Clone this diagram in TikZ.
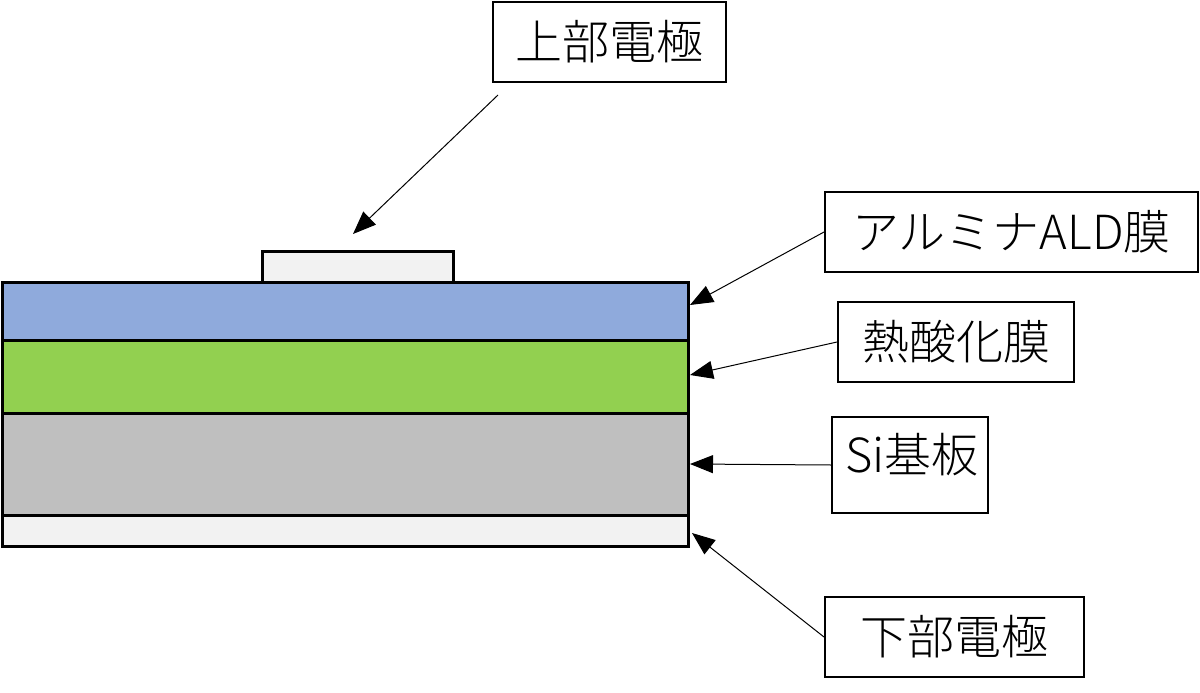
\documentclass[tikz,border=0pt]{standalone}
\usepackage{fontspec}
\setmainfont{Noto Sans CJK JP}[UprightFont=* Light]
\usetikzlibrary{arrows.meta}
\definecolor{albl}{HTML}{8FAADC}
\definecolor{oxgr}{HTML}{92D050}
\definecolor{sigr}{HTML}{BFBFBF}
\definecolor{elwh}{HTML}{F2F2F2}
\begin{document}
\begin{tikzpicture}[x=1pt,y=-1pt,
  layer/.style={draw=black,line width=3pt},
  labeltext/.style={font=\fontsize{47}{54}\selectfont},
  labelbox/.style={draw=black,line width=2pt,fill=white,inner sep=0pt,labeltext},
  arr/.style={-{Triangle[length=23pt,width=18pt]},line width=1pt}]
\fill[white] (0,0) rectangle (1200,693);
\useasboundingbox (0,0) rectangle (1200,693);
% layers
\draw[layer,fill=elwh] (262,251) rectangle (453,282);
\draw[layer,fill=albl] (2,282) rectangle (688,340);
\draw[layer,fill=oxgr] (2,340) rectangle (688,413);
\draw[layer,fill=sigr] (2,413) rectangle (688,515);
\draw[layer,fill=elwh] (2,515) rectangle (688,546);
% label boxes
\node[labelbox,minimum width=233pt,minimum height=80pt] (top) at (609,42) {上部電極};
\node[labelbox,minimum width=373pt,minimum height=80pt] (ald) at (1011.5,232) {アルミナALD膜};
\node[labelbox,minimum width=236pt,minimum height=80pt] (ox) at (956,342) {熱酸化膜};
\node[labelbox,minimum width=156pt,minimum height=96pt] (si) at (910,465) {};
\node[labeltext,inner sep=0pt] (sitext) at (912,455) {Si基板};
\node[labelbox,minimum width=259pt,minimum height=80pt] (bot) at (954.5,637) {下部電極};
% arrow targets
\coordinate (topstart) at (498,95);
\coordinate (toptip) at (353,234);
\coordinate (aldtip) at (690,305);
\coordinate (oxtip) at (690,375);
\coordinate (sitip) at (690,464);
\coordinate (bottip) at (692,533);
% arrows
\draw[arr] (topstart) -- (toptip);
\draw[arr] (ald.west) -- (aldtip);
\draw[arr] (ox.west) -- (oxtip);
\draw[arr] (si.west) -- (sitip);
\draw[arr] (bot.west) -- (bottip);
\end{tikzpicture}
\end{document}
